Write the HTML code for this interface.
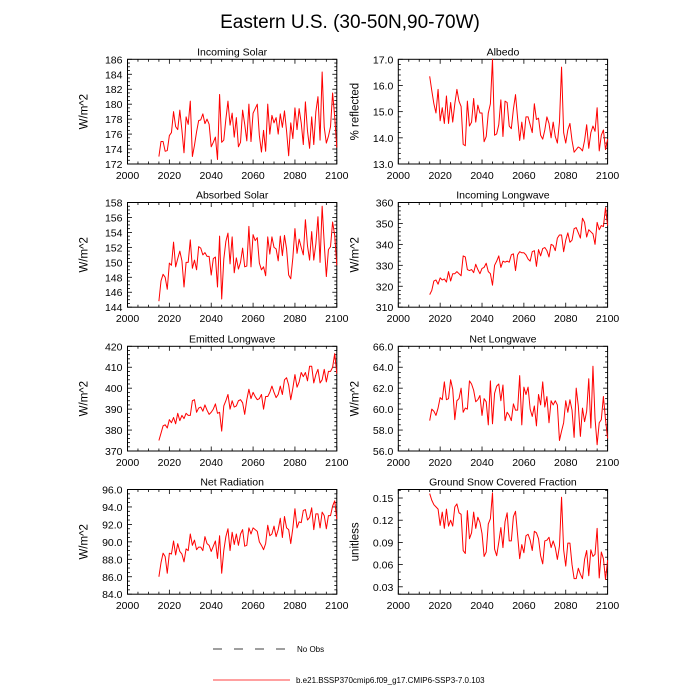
<!DOCTYPE html>
<html><head><meta charset="utf-8"><style>
html,body{margin:0;padding:0;background:#fff}
svg{display:block;font-family:"Liberation Sans",sans-serif}
</style></head><body>
<svg id="chart" width="700" height="700" viewBox="0 0 700 700">
<text x="350" y="28" font-size="19" text-anchor="middle">Eastern U.S. (30-50N,90-70W)</text>
<g id="panels"></g>
<g>
<line x1="213" y1="649" x2="290" y2="649" stroke="#000" stroke-width="0.8" stroke-dasharray="9,12"/>
<text x="297" y="652" font-size="8">No Obs</text>
<line x1="213" y1="680" x2="290" y2="680" stroke="#f00" stroke-width="0.8"/>
<text x="296" y="683" font-size="8">b.e21.BSSP370cmip6.f09_g17.CMIP6-SSP3-7.0.103</text>
</g>
</svg>
<script>
const startYear = 2015;
const xTicks = [2000, 2020, 2040, 2060, 2080, 2100];
const incomingSolar = [173,175,175,173.7,173.8,175.8,176.2,179,177,176.6,179.2,176.5,173.5,178.3,177.3,180.4,173,174.5,176.3,177.8,177.9,178.7,177.4,178,177.3,174.3,174.9,175.6,172.6,181.3,174.9,175.2,178,180.4,177.2,178.8,175.6,178.2,174.3,174.9,179.2,177.3,175.1,180,175,178.8,179.4,180,175.8,173.6,176.5,173.7,180,176,178.5,177.5,178.2,176,178.7,176.9,179.1,176.4,173.1,177.5,175.4,179.5,176.6,179.4,177.5,174.6,180.3,176.4,174.1,178.3,174.6,179,181,175.2,184.3,176.9,174.8,175.7,177,181.5,178.3,174.2];
const albedo = [16.35,15.8,15.3,14.95,15.85,14.65,15.15,14.55,15.6,14.55,15.35,14.6,15.3,15.85,15.4,15.2,13.75,13.7,15.4,14.45,14.6,15.5,14.6,15.25,14.95,14.95,13.85,14.05,14.95,15.3,17.0,14.1,14.15,14.5,15.45,14.05,15.4,15.35,14.45,14.35,15.1,15.65,14.75,13.9,14.6,13.95,14.8,14.8,14.5,14.2,15.3,14.7,14.75,14.1,13.95,14.3,14.8,14.55,14.0,14.6,14.05,13.8,14.6,16.7,14.2,13.8,14.3,14.55,13.9,13.45,13.55,13.65,13.6,13.5,13.9,14.5,13.6,14.2,14.45,14.25,15.15,13.5,14.1,14.3,13.55,13.95];
const absorbedSolar = [144.8,147.5,148.4,148,146.4,149.9,149.6,152.7,149.4,150.5,151.5,150.2,146.7,150,150,153,149.2,150.3,149,152.1,151.9,151,151.3,150.8,150.8,148.3,150.5,150.7,146.7,153.5,145.1,150.4,152.8,153.9,149.8,153.4,148.6,150.6,149.1,150,151.9,149.4,149.5,154.8,149.4,153.7,152.9,153.3,149.9,149,149.4,148.2,153.4,151.1,153.4,152,151.8,150.2,153.5,150.9,153.6,151.8,148.3,147.8,150.6,154.5,151.2,153.1,152,151,155.7,152.2,150.3,154.1,150.3,152.5,156.1,150,157.5,152.5,148.1,151.7,152.1,155.4,153.6,149.6];
const incomingLongwave = [316,318,322.5,323,321,324,323,323.5,322,327,322.5,326,326,327,326,325,334.5,334,328,327.5,328,326.5,330.5,328,326,328.5,329,331,327,326,320.5,330,332,334.5,329,332,331.5,332,331.5,335,335.5,327.5,335,336.5,336,336,335,333,332,336.5,337,329.5,337.5,334.5,338,338.5,337,334,340,339.5,337,343,344.5,344.5,336.5,342,345.5,341,342,347.5,348,345.5,343,352.5,350.5,343.5,347,346,345,340,350.5,347,349,348.5,357.5,349];
const emittedLongwave = [375,378.5,382,382.5,381,385,383.5,386,383,388,384.5,387,385.5,388,387,387,394,394.5,388.5,390.5,391,389,392,389.5,387.5,388.5,390,392.5,388,388.5,379.5,391.5,394,397,390,394,391,391.5,394,394.5,393,387.5,394.5,399.5,395,398,396,394.5,395,397,390,396,396,398,401,398,395.5,397,401,397,404,405,401.5,394.5,400,406.5,400.5,403,407.5,405.5,407.5,403.5,410.5,410.5,402.5,406.5,409,402.5,404,409,403,408,408,410,416.5,407];
const netLongwave = [58.9,60,59.8,59.4,60.1,61.1,60.9,62.6,60.9,61,62.8,61.9,59,60.8,61,62,59.7,60.1,60,62.7,62.4,61.8,60.7,60.9,61.3,59.4,61,60.7,58.5,62.7,58.6,61.5,62.2,62.4,60.8,62.3,58.9,59.7,59.4,58.9,60.5,59.9,59.9,63.2,58.5,62.1,61.4,62.1,60,59.3,60.3,58.4,61.4,60.4,62.6,60.2,61.2,58.7,60.8,60.4,60.8,60.4,57,57.9,58.7,60.8,59.7,60.9,59.9,57.3,62,60.3,57.4,60.1,58.8,59.8,62.9,58.2,64.1,59.1,56.6,58.7,59,61.2,59,57.2];
const netRadiation = [86,87.6,88.7,88.3,86.4,88.7,88.6,90.1,88.5,89.8,88.9,88.6,87.7,89.2,89,90.9,89.6,90.2,89.1,89.4,89.4,89,90.6,89.8,89.6,88.9,89.5,90.1,88.1,90.7,86.4,89,90.6,91.5,89,91.1,89.7,90.9,89.6,90.9,91.4,89.5,89.6,91.6,90.9,91.6,91.4,91.2,90,89.6,89.1,89.8,91.9,90.7,90.9,91.8,90.6,91.4,92.7,90.5,92.9,91.6,91.4,89.8,91.6,93.8,91.6,92.3,92.2,93.6,93.7,92.5,92.8,93.9,91.4,93.2,93.2,91.6,93.4,93,91.5,93,93,94.1,94.7,92.6];
const snowFraction = [0.156,0.147,0.141,0.138,0.135,0.113,0.131,0.109,0.135,0.112,0.120,0.112,0.138,0.142,0.130,0.128,0.079,0.075,0.133,0.095,0.103,0.131,0.109,0.124,0.117,0.102,0.071,0.077,0.115,0.122,0.157,0.081,0.072,0.090,0.110,0.083,0.118,0.130,0.092,0.092,0.125,0.132,0.100,0.068,0.087,0.076,0.099,0.101,0.093,0.079,0.105,0.103,0.095,0.072,0.061,0.092,0.093,0.097,0.083,0.092,0.083,0.067,0.085,0.151,0.080,0.058,0.089,0.089,0.060,0.041,0.041,0.055,0.047,0.041,0.067,0.079,0.045,0.080,0.071,0.074,0.109,0.042,0.077,0.068,0.040,0.066];

const panels = [
 {name:'incoming-solar',title:'Incoming Solar',ylab:'W/m^2',data:incomingSolar,ymin:172,ymax:186,major:2,minor:0.5,dec:0,col:0,row:0},
 {name:'albedo',title:'Albedo',ylab:'% reflected',data:albedo,ymin:13,ymax:17,major:1,minor:0.2,dec:1,col:1,row:0},
 {name:'absorbed-solar',title:'Absorbed Solar',ylab:'W/m^2',data:absorbedSolar,ymin:144,ymax:158,major:2,minor:0.5,dec:0,col:0,row:1},
 {name:'incoming-longwave',title:'Incoming Longwave',ylab:'W/m^2',data:incomingLongwave,ymin:310,ymax:360,major:10,minor:2,dec:0,col:1,row:1},
 {name:'emitted-longwave',title:'Emitted Longwave',ylab:'W/m^2',data:emittedLongwave,ymin:370,ymax:420,major:10,minor:2,dec:0,col:0,row:2},
 {name:'net-longwave',title:'Net Longwave',ylab:'W/m^2',data:netLongwave,ymin:56,ymax:66,major:2,minor:0.5,dec:1,col:1,row:2},
 {name:'net-radiation',title:'Net Radiation',ylab:'W/m^2',data:netRadiation,ymin:84,ymax:96,major:2,minor:0.5,dec:1,col:0,row:3},
 {name:'snow-fraction',title:'Ground Snow Covered Fraction',ylab:'unitless',data:snowFraction,ymin:0.02,ymax:0.1615,major:0.03,minor:0.01,dec:2,col:1,row:3,firstTick:0.03}
];
const NS='http://www.w3.org/2000/svg';
const root=document.getElementById('panels');
function mk(tag,attrs,parent){const e=document.createElementNS(NS,tag);for(const k in attrs)e.setAttribute(k,attrs[k]);parent.appendChild(e);return e;}
const colX=[127.5,398.3], rowY=[59.3,202.5,346.3,489.5], W=209.3, H=104.7;
panels.forEach(p=>{
  const g=mk('g',{},root);
  
  
  const x0=colX[p.col], y0=rowY[p.row];
  const xs=yr=>x0+(yr-2000)/100*W;
  const ys=v=>y0+H-(v-p.ymin)/(p.ymax-p.ymin)*H;
  const tg=mk('g',{stroke:'#000','stroke-width':'0.8'},g);
  
  
  for(let yr=2000;yr<=2100;yr+=5){
    const L=(yr%20===0)?4.5:2.5, X=xs(yr);
    mk('line',{x1:X,y1:y0+H,x2:X,y2:y0+H-L},tg);
    mk('line',{x1:X,y1:y0,x2:X,y2:y0+L},tg);
  }
  const start=Math.ceil(p.ymin/p.minor-1e-6)*p.minor;
  for(let v=start; v<=p.ymax+1e-9; v+=p.minor){
    const r=v/p.major, isMaj=Math.abs(r-Math.round(r))<1e-6;
    const L=isMaj?4.5:2.5, Y=ys(v);
    mk('line',{x1:x0,y1:Y,x2:x0+L,y2:Y},tg);
    mk('line',{x1:x0+W,y1:Y,x2:x0+W-L,y2:Y},tg);
  }
  const fr=mk('rect',{x:x0,y:y0,width:W,height:H,fill:'none',stroke:'#000','stroke-width':'1'},g);
  
  
  xTicks.forEach(t=>{
    const tx=mk('text',{x:xs(t),y:y0+H+15,'font-size':'10.5','text-anchor':'middle'},g);
    
    
    tx.textContent=t;
  });
  const y1=p.firstTick!==undefined?p.firstTick:Math.ceil(p.ymin/p.major-1e-6)*p.major;
  for(let v=y1; v<=p.ymax+1e-9; v+=p.major){
    const ty=mk('text',{x:x0-5,y:ys(v)+4,'font-size':'10.5','text-anchor':'end'},g);
    
    
    ty.textContent=v.toFixed(p.dec);
  }
  const tt=mk('text',{x:x0+W/2,y:y0-4,'font-size':'10.5','text-anchor':'middle'},g);
  
  
  tt.textContent=p.title;
  const yl=mk('text',{x:0,y:0,'font-size':'11.5','text-anchor':'middle',transform:`translate(${x0-40},${y0+H/2}) rotate(-90)`},g);
  
  
  yl.textContent=p.ylab;
  const pts=p.data.map((v,i)=>xs(startYear+i).toFixed(2)+','+ys(v).toFixed(2)).join(' ');
  const pl=mk('polyline',{points:pts,fill:'none',stroke:'#f00','stroke-width':'1','stroke-linejoin':'round'},g);
  
  
});
</script>
</body></html>
